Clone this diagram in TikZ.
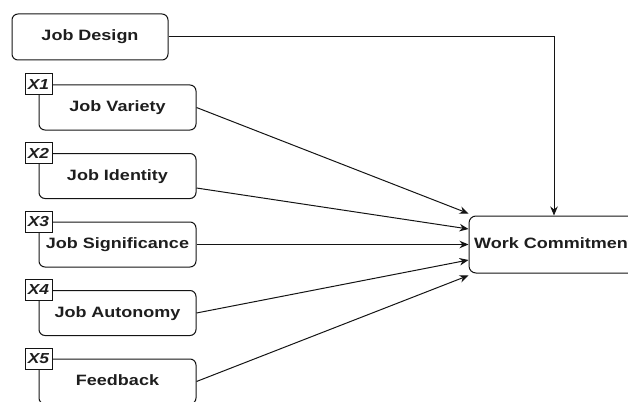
\documentclass[tikz,border=0pt]{standalone}
\usepackage{fontspec}
\usepackage{xcolor}
\usepackage{tikz}
\usetikzlibrary{arrows.meta, positioning, calc}
\newfontfamily\diafont{Liberation Sans}[FakeStretch=1.2]
\definecolor{mydark}{RGB}{20,20,20}
\definecolor{mytext}{RGB}{30,30,30}
\tikzset{
  block/.style={rectangle, draw=mydark, fill=white,
    minimum width=157pt, minimum height=45pt, inner sep=2pt,
    text height=11pt, text depth=3pt,
    font=\diafont\bfseries\fontsize{15}{18}\selectfont, text=mytext,
    rounded corners=6pt, line width=1pt},
  tagbox/.style={rectangle, draw=mydark, fill=white,
    minimum width=27pt, minimum height=21pt, inner sep=0pt,
    font=\diafont\bfseries\itshape\fontsize{14.5}{16}\selectfont, text=mytext,
    line width=1pt},
  arrow/.style={-{Stealth[length=9pt, width=7.5pt]}, line width=1pt, color=mydark}
}

\begin{document}
\begin{tikzpicture}[x=1pt, y=-1pt]
  \useasboundingbox (0,0) rectangle (628,401);
  \clip (0,0) rectangle (628,401);

  % Job design and the outcome
  \node[block, minimum width=156pt, minimum height=46pt] (jd) at (90,37) {Job Design};
  \node[block, minimum width=170pt, minimum height=57pt, rounded corners=7pt] (wc) at (554,244.5) {Work Commitment};

  % Five dimensions
  \node[block] (jv) at (117.5,107.5) {Job Variety};
  \node[block] (ji) at (117.5,176) {Job Identity};
  \node[block] (js) at (117.5,244.5) {Job Significance};
  \node[block] (ja) at (117.5,313) {Job Autonomy};
  \node[block] (fb) at (117.5,381.5) {Feedback};

  % Variable tags on the corners
  \node[tagbox] (x1) at (jv.north west) {X1};
  \node[tagbox] (x2) at (ji.north west) {X2};
  \node[tagbox] (x3) at (js.north west) {X3};
  \node[tagbox] (x4) at (ja.north west) {X4};
  \node[tagbox] (x5) at (fb.north west) {X5};

  % Connectors
  \draw[arrow] (jd.east) -| (wc.north);
  \draw[arrow] (jv.east) -- ($(wc.west)+(0,-31)$);
  \draw[arrow] ($(ji.east)+(0,12)$) -- ($(wc.west)+(0,-15.5)$);
  \draw[arrow] (js.east) -- (wc.west);
  \draw[arrow] (ja.east) -- ($(wc.west)+(0,15.5)$);
  \draw[arrow] (fb.east) -- ($(wc.west)+(0,31)$);
\end{tikzpicture}
\end{document}
